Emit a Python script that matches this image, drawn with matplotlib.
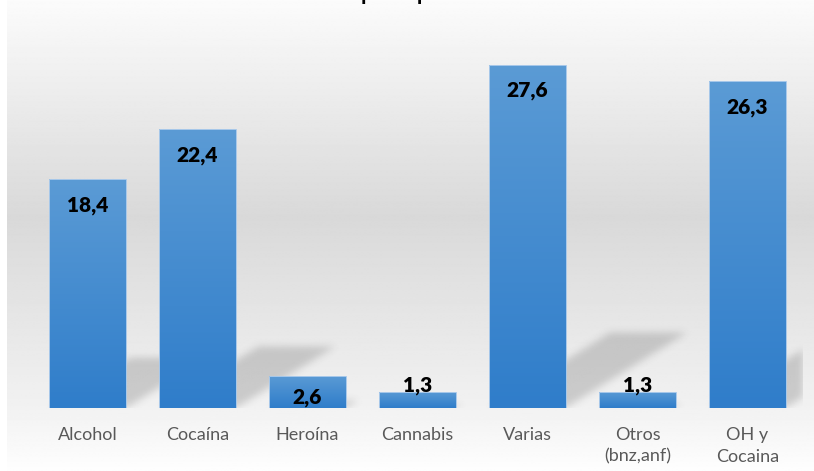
import numpy as np
import matplotlib
matplotlib.use("Agg")
import matplotlib.pyplot as plt
from matplotlib.path import Path
from matplotlib.colors import LinearSegmentedColormap

categories = ["Alcohol", "Cocaína", "Heroína", "Cannabis", "Varias", "Otros\n(bnz,anf)", "OH y\nCocaina"]
values = [18.4, 22.4, 2.6, 1.3, 27.6, 1.3, 26.3]
value_labels = ["18,4", "22,4", "2,6", "1,3", "27,6", "1,3", "26,3"]
title = "Sustancia principal de consumo"

W, H, DPI = 814, 471, 100
fig = plt.figure(figsize=(W / DPI, H / DPI), dpi=DPI)
fig.patch.set_facecolor("white")

# background panel with vertical gradient
bg = fig.add_axes([7 / W, 0, (W - 7) / W, 1], zorder=-10)
yy = np.linspace(0, 1, 400)
stops_y = [0.0, 0.46, 0.86, 1.0]
stops_v = [0.985, 0.85, 0.945, 0.995]
grad = np.interp(yy, stops_y, stops_v)
bg.imshow(np.repeat(grad[:, None], 2, axis=1), cmap="gray", vmin=0, vmax=1,
          aspect="auto", extent=(0, 1, 1, 0), interpolation="bilinear")
bg.set_xlim(0, 1)
bg.set_ylim(1, 0)
bg.axis("off")

ax = fig.add_axes([32.5 / W, 63 / H, 770 / W, 373 / H])
ax.set_facecolor("none")
x = np.arange(len(categories))
bars = ax.bar(x, values, width=0.7, facecolor="none", edgecolor="#a9c9ea",
              linewidth=0.7, zorder=4)
XLIM = (-0.5, len(categories) - 0.5)
YLIM = (0, 30)

# perspective shadows behind bars
k, s = 0.22, 0.04
nx, ny = 800, 400
xs = np.linspace(XLIM[0], XLIM[1], nx)
ys = np.linspace(YLIM[0], YLIM[1], ny)
XX, YY = np.meshgrid(xs, ys)
pts = np.column_stack([XX.ravel(), YY.ravel()])
mask = np.zeros(nx * ny)
for p in bars:
    x0, w, h = p.get_x(), p.get_width(), p.get_height()
    poly = [(x0, 0), (x0 + w, 0), (x0 + w + s * h, k * h), (x0 + s * h, k * h)]
    mask = np.maximum(mask, Path(poly).contains_points(pts).astype(float))
mask = mask.reshape(ny, nx)
sig = 4.0
t = np.arange(-12, 13)
kern = np.exp(-t ** 2 / (2 * sig ** 2))
kern /= kern.sum()
mask = np.apply_along_axis(lambda r: np.convolve(r, kern, mode="same"), 1, mask)
mask = np.apply_along_axis(lambda c: np.convolve(c, kern, mode="same"), 0, mask)
rgba = np.zeros((ny, nx, 4))
rgba[..., :3] = 0.2
rgba[..., 3] = mask * 0.2
ax.imshow(rgba, extent=(XLIM[0], XLIM[1], YLIM[0], YLIM[1]), origin="lower",
          aspect="auto", zorder=1, interpolation="bilinear")

# gradient fill of bars
bar_cmap = LinearSegmentedColormap.from_list("barg", ["#2f7dca", "#5b9bd5"])
g = np.linspace(0, 1, 256)[:, None]
for p in bars:
    x0, w, h = p.get_x(), p.get_width(), p.get_height()
    im = ax.imshow(g, cmap=bar_cmap, origin="lower", aspect="auto",
                   extent=(x0, x0 + w, 0, h), zorder=3, interpolation="bilinear")
    im.set_clip_path(p)

ax.set_xlim(*XLIM)
ax.set_ylim(*YLIM)

# value labels
for xi, v, lab in zip(x, values, value_labels):
    if v >= 5:
        off = -26 * 72 / DPI
    elif v >= 2:
        off = -22 * 72 / DPI
    else:
        off = 6 * 72 / DPI
    ax.annotate(lab, (xi, v), xytext=(0, off), textcoords="offset points",
                ha="center", va="center", fontsize=15, fontweight="heavy",
                family="Lato", color="black", zorder=6)

ax.set_xticks(x)
ax.set_xticklabels(categories, fontsize=13, family="Lato", color="#595959",
                   linespacing=1.4)
ax.tick_params(axis="x", length=0, pad=14)
ax.set_yticks([])
for sp in ax.spines.values():
    sp.set_visible(False)

fig.text(416 / W, 1 - 0.4 / H, title, ha="center", va="baseline", fontsize=16,
         fontweight="bold", family="Lato", color="black")

fig.savefig("out.png", dpi=DPI)
